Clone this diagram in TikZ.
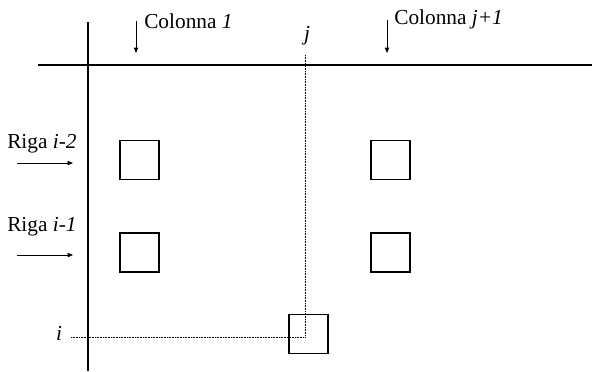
\documentclass[tikz,border=0pt]{standalone}
\usepackage{fontspec}
\setmainfont{Liberation Serif}
\usetikzlibrary{arrows.meta}
\begin{document}
\begin{tikzpicture}[x=0.75pt,y=-0.75pt,
  axis/.style={line width=1.1pt},
  cell/.style={draw,line width=1.1pt,minimum size=29pt,inner sep=0pt},
  ptr/.style={line width=0.6pt,-{Triangle[length=4pt,width=3.2pt]}},
  guide/.style={line width=0.6pt,dotted,dash pattern=on 0.5pt off 0.7pt},
  lbl/.style={font=\fontsize{16}{18}\selectfont,inner sep=0pt}]
\useasboundingbox (0,0) rectangle (592,371);
% axes
\coordinate (vtop) at (88,22); \coordinate (vbot) at (88,371);
\coordinate (hl) at (38,65); \coordinate (hr) at (592,65);
\draw[axis] (vtop) -- (vbot);
\draw[axis] (hl) -- (hr);
% cells
\node[cell] (a1) at (139.5,160) {};
\node[cell] (a2) at (390.5,160) {};
\node[cell] (b1) at (139.5,252.5) {};
\node[cell] (b2) at (390.5,252.5) {};
\node[cell] (c) at (308.5,334) {};
% labels
\node[lbl,anchor=base west] (col1) at (144,28) {Colonna \textit{1}};
\node[lbl,anchor=base west] (colj) at (394,24) {Colonna \textit{j+1}};
\node[lbl,anchor=base] (jl) at (307,40) {\textit{j}};
\node[lbl,anchor=base west] (r2) at (7,148) {Riga \textit{i-2}};
\node[lbl,anchor=base west] (r1) at (7,231) {Riga \textit{i-1}};
\node[lbl,anchor=base] (il) at (59,340) {\textit{i}};
% pointer arrows
\coordinate (c1s) at (136,21); \coordinate (c1e) at (136,53);
\coordinate (cjs) at (387,20); \coordinate (cje) at (387,53);
\coordinate (r2s) at (17,163); \coordinate (r2e) at (73,163);
\coordinate (r1s) at (17,255); \coordinate (r1e) at (73,255);
\draw[ptr] (c1s) -- (c1e);
\draw[ptr] (cjs) -- (cje);
\draw[ptr] (r2s) -- (r2e);
\draw[ptr] (r1s) -- (r1e);
% dotted guides
\coordinate (jtop) at (305,55);
\coordinate (ist) at (71,337);
\coordinate (meet) at (305,337);
\draw[guide] (jtop) -- (meet);
\draw[guide] (ist) -- (meet);
\end{tikzpicture}
\end{document}
